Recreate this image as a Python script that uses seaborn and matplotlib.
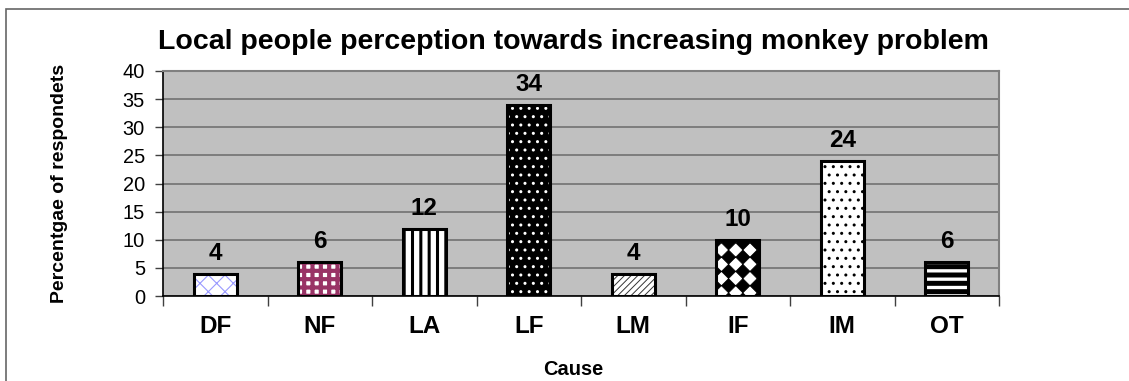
import numpy as np
import pandas as pd
import matplotlib
matplotlib.use("Agg")
import matplotlib.pyplot as plt
import matplotlib.hatch as mhatch
from matplotlib.path import Path
from matplotlib.patches import Rectangle
import seaborn as sns

# ---- data -------------------------------------------------------------
causes = ["DF", "NF", "LA", "LF", "LM", "IF", "IM", "OT"]
percent = [4, 6, 12, 34, 4, 10, 24, 6]
y_ticks = [0, 5, 10, 15, 20, 25, 30, 35, 40]

title = "Local people perception towards increasing monkey problem"
x_label = "Cause"
y_label = "Percentgae of respondets"

# fill styles: (face colour, hatch colour, hatch pattern, hatch width)
styles = [
    ("white", "#9999FF", "xx", 0.8),
    ("white", "#993366", "++", 3.0),
    ("white", "black", "||", 2.2),
    ("black", "white", "..", 1.0),
    ("white", "#333333", "/////", 0.7),
    ("white", "black", "*", 0.5),
    ("white", "black", "..", 1.0),
    ("black", "white", "--", 2.4),
]


# ---- a filled-diamond (diagonal checker) hatch, bound to '*' -----------
class DiamondHatch(mhatch.HatchPatternBase):
    def __init__(self, hatch, density):
        self.num_cells = int(hatch.count("*") * 7)
        self.num_vertices = (self.num_cells + 1) ** 2 * 5 if self.num_cells else 0

    def set_vertices_and_codes(self, vertices, codes):
        n = self.num_cells
        h = 0.5 / n
        shape = np.array([[0, h], [h, 0], [0, -h], [-h, 0], [0, h]])
        step = [Path.MOVETO, Path.LINETO, Path.LINETO, Path.LINETO, Path.CLOSEPOLY]
        k = 0
        for i in range(n + 1):
            for j in range(n + 1):
                vertices[k:k + 5] = shape + [i / n, j / n]
                codes[k:k + 5] = step
                k += 5


mhatch._hatch_types = [t for t in mhatch._hatch_types
                       if t is not mhatch.Stars] + [DiamondHatch]

# ---- figure -----------------------------------------------------------
sns.set_theme(style="white")
plt.rcParams["font.family"] = ["Liberation Sans", "DejaVu Sans"]
plt.rcParams.update({
    "text.color": "black",
    "axes.labelcolor": "black",
    "xtick.color": "black",
    "ytick.color": "black",
})

df = pd.DataFrame({"cause": causes, "percent": percent})

fig = plt.figure(figsize=(11.29, 3.81), dpi=100)
ax = fig.add_axes([163 / 1129, 1 - 296 / 381, 836 / 1129, 225 / 381])
ax.set_facecolor("#C0C0C0")

# patterned fills
sns.barplot(data=df, x="cause", y="percent", order=causes, width=0.41,
            color="white", linewidth=0, ax=ax, zorder=2)
for patch, (face, hcol, hatch, hlw) in zip(ax.patches, styles):
    patch.set_facecolor(face)
    patch.set_edgecolor(hcol)
    patch.set_linewidth(0)
    patch.set_hatch(hatch)
    if hasattr(patch, "set_hatch_linewidth"):
        patch.set_hatch_linewidth(hlw)

# black outlines on top
sns.barplot(data=df, x="cause", y="percent", order=causes, width=0.41,
            fill=False, color="black", linewidth=2.2, ax=ax, zorder=3)

# value labels
for i, v in enumerate(percent):
    ax.annotate(f"{v}", xy=(i, v), xytext=(0, 10), textcoords="offset points",
                ha="center", va="baseline", fontsize=17.5, fontweight="bold",
                color="black", zorder=4)

# axes
ax.set_xlim(-0.5, len(causes) - 0.5)
ax.set_ylim(0, 40)
ax.set_yticks(y_ticks)
ax.yaxis.grid(True, color="#6a6a6a", linewidth=1.1, zorder=1)
ax.set_axisbelow(True)

ax.set_xticks(range(len(causes)))
ax.set_xticklabels(causes, fontsize=17.5, fontweight="bold")
ax.set_xticks(np.arange(-0.5, len(causes)), minor=True)
ax.tick_params(axis="x", which="major", length=0, pad=14, labelcolor="black")
ax.tick_params(axis="x", which="minor", length=7, width=1, color="#404040",
               direction="out", bottom=True)
ax.tick_params(axis="y", which="major", length=6, width=1, color="#404040",
               direction="out", left=True, pad=7, labelsize=14.4,
               labelcolor="black")

for side in ("left", "bottom"):
    ax.spines[side].set_color("black")
    ax.spines[side].set_linewidth(1.2)
for side in ("top", "right"):
    ax.spines[side].set_visible(True)
    ax.spines[side].set_color("#808080")
    ax.spines[side].set_linewidth(1.5)

ax.set_xlabel(x_label, fontsize=14.4, fontweight="bold", color="black")
ax.xaxis.set_label_coords((573 - 163) / 836, (296 - 360) / 225)
ax.set_ylabel(y_label, fontsize=14, fontweight="bold", color="black")
ax.yaxis.set_label_coords((68 - 163) / 836, 0.5)

fig.text(573 / 1129, 1 - 42 / 381, title, ha="center", va="center",
         fontsize=20.5, fontweight="bold", color="black")

# chart frame
fig.add_artist(Rectangle((6 / 1129, -0.2), 1.2, 1.2 - 9 / 381,
                         transform=fig.transFigure, fill=False,
                         edgecolor="#666666", linewidth=1.2, clip_on=False))

fig.savefig("out.png", dpi=100)
